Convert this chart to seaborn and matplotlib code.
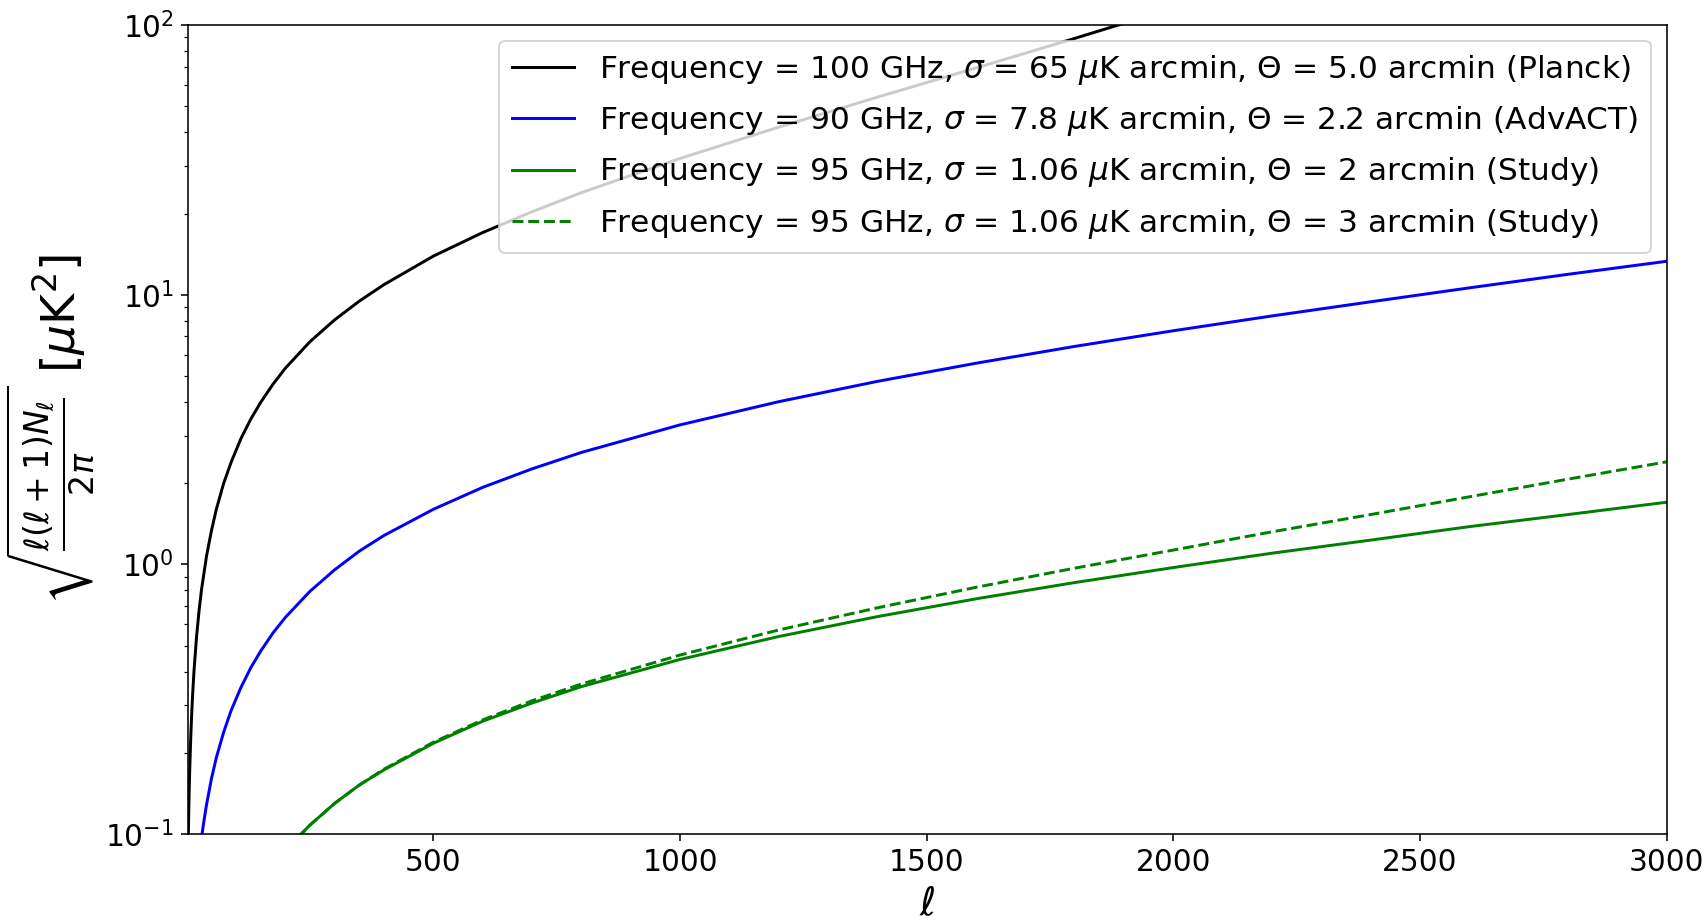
import matplotlib
matplotlib.use("Agg")
import matplotlib.pyplot as plt
import seaborn as sns

# ---- data ----
ell_planck = [2, 3, 4, 5, 6, 8, 10, 12, 15, 20, 25, 30, 40, 50, 60, 75, 90, 110, 130, 150,
              175, 200, 250, 300, 350, 400, 500, 600, 700, 800, 1000, 1200, 1400, 1600,
              1800, 1900, 2000]
noise_planck = [0.065, 0.092, 0.118, 0.145, 0.171, 0.224, 0.277, 0.330, 0.409, 0.541, 0.673,
                0.806, 1.07, 1.33, 1.60, 2.00, 2.39, 2.93, 3.46, 3.99, 4.66, 5.34, 6.70, 8.07,
                9.47, 10.9, 13.9, 17.0, 20.3, 23.9, 32.0, 41.8, 54.0, 69.3, 89.2, 101.5, 115]

ell_advact = [30, 35, 40, 50, 60, 75, 90, 110, 130, 150, 175, 200, 250, 300, 350, 400, 500,
              600, 700, 800, 1000, 1200, 1400, 1600, 1800, 2000, 2200, 2400, 2600, 2800, 3000]
noise_advact = [0.097, 0.112, 0.128, 0.160, 0.192, 0.239, 0.287, 0.350, 0.414, 0.477, 0.557,
                0.636, 0.795, 0.955, 1.12, 1.28, 1.60, 1.93, 2.26, 2.60, 3.29, 4.01, 4.77,
                5.57, 6.43, 7.35, 8.34, 9.41, 10.6, 11.9, 13.3]

ell_study = [225, 250, 300, 350, 400, 500, 600, 700, 800, 1000, 1200, 1400, 1600, 1800, 2000,
             2200, 2400, 2600, 2800, 3000]
noise_study_2 = [0.097, 0.108, 0.130, 0.152, 0.173, 0.217, 0.262, 0.306, 0.352, 0.444, 0.540,
                 0.640, 0.745, 0.856, 0.973, 1.10, 1.23, 1.38, 1.53, 1.70]
noise_study_3 = [0.097, 0.108, 0.130, 0.152, 0.174, 0.219, 0.265, 0.312, 0.360, 0.461, 0.571,
                 0.690, 0.822, 0.968, 1.13, 1.32, 1.53, 1.78, 2.07, 2.40]

labels = [
    r'Frequency = 100 GHz, $\sigma$ = 65 $\mu$K arcmin, $\Theta$ = 5.0 arcmin (Planck)',
    r'Frequency = 90 GHz, $\sigma$ = 7.8 $\mu$K arcmin, $\Theta$ = 2.2 arcmin (AdvACT)',
    r'Frequency = 95 GHz, $\sigma$ = 1.06 $\mu$K arcmin, $\Theta$ = 2 arcmin (Study)',
    r'Frequency = 95 GHz, $\sigma$ = 1.06 $\mu$K arcmin, $\Theta$ = 3 arcmin (Study)',
]

plt.rcParams['font.family'] = ['DejaVu Sans']
plt.rcParams['xtick.labelsize'] = 15
plt.rcParams['ytick.labelsize'] = 15

DPI = 142.33
fig = plt.figure(figsize=(1708 / DPI, 923 / DPI), dpi=DPI)
ax = fig.add_axes([0.1099, 0.0964, 0.9758 - 0.1099, 0.9729 - 0.0964])

sns.lineplot(x=ell_planck, y=noise_planck, ax=ax, color='k', lw=1.5, label=labels[0])
sns.lineplot(x=ell_advact, y=noise_advact, ax=ax, color='b', lw=1.5, label=labels[1])
sns.lineplot(x=ell_study, y=noise_study_2, ax=ax, color='g', lw=1.5, label=labels[2])
sns.lineplot(x=ell_study, y=noise_study_3, ax=ax, color='g', lw=1.5, linestyle='--',
             label=labels[3])

ax.set_yscale('log')
ax.set_xlim(2, 3000)
ax.set_ylim(0.1, 100)
ax.set_xticks([500, 1000, 1500, 2000, 2500, 3000])
ax.set_xlabel(r'$\ell$', fontsize=20)
ax.set_ylabel(r'$\sqrt{\frac{\ell(\ell+1)N_\ell}{2\pi}}$ [$\mu$K$^2$]', fontsize=24)
ax.legend(loc='upper right', fontsize=15.8, labelspacing=0.55)

fig.savefig('out.png', dpi=DPI)
